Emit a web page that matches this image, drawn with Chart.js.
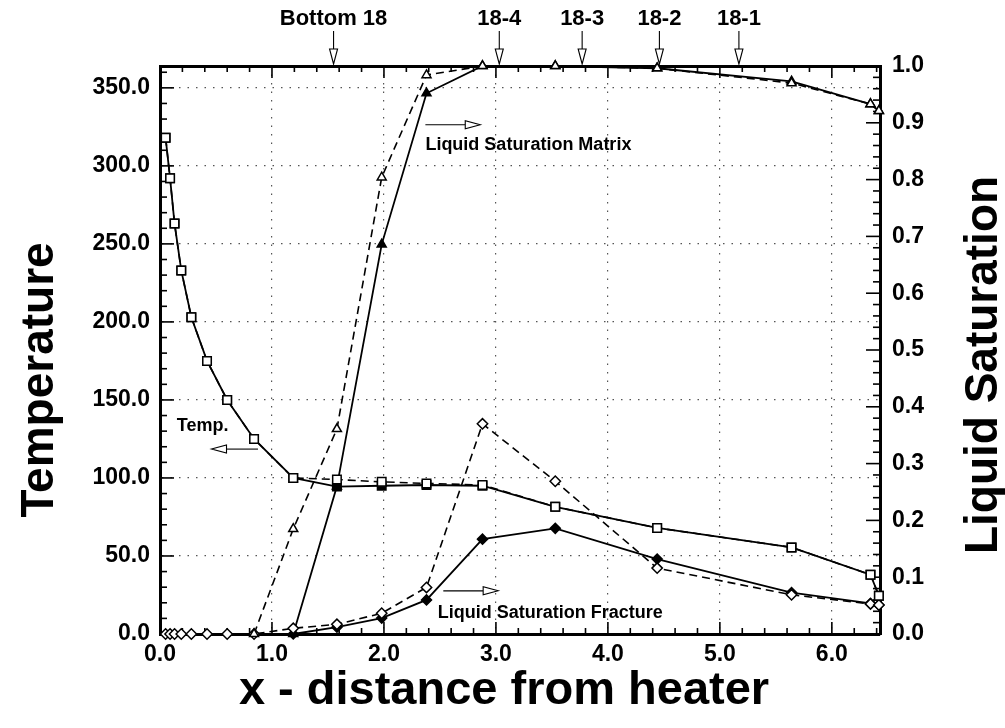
<!DOCTYPE html>
<html>
<head>
<meta charset="utf-8">
<script src="https://cdn.jsdelivr.net/npm/chart.js@4.4.1/dist/chart.umd.min.js"></script>
<style>
html,body{margin:0;padding:0;background:#fff;}
#wrap{width:1005px;height:728px;position:relative;}
</style>
</head>
<body>
<div id="wrap"><canvas id="c"></canvas></div>
<script>
// ---- data ----
const xDistance   = [0.05, 0.09, 0.13, 0.19, 0.28, 0.42, 0.60, 0.84, 1.19, 1.58, 1.98, 2.38, 2.88, 3.53, 4.44, 5.64, 6.345, 6.42];
const tempOpen    = [318, 292, 263, 233, 203, 175, 150, 125, 100, 99, 97.5, 96.5, 95.5, 81.5, 68, 55.5, 38, 24.5];
const tempFilled  = [318, 292, 263, 233, 203, 175, 150, 125, 100, 94.5, 95, 95.5, 95, 81.5, 68, 55.5, 38, 24.5];
const matrixOpen  = [null, null, null, null, null, null, null, 0, 0.185, 0.361, 0.804, 0.984, 1.0, 1.0, 0.996, 0.970, 0.933, 0.921];
const matrixFilled= [null, null, null, null, null, null, null, null, 0, 0.26, 0.686, 0.952, 1.0, 1.0, 0.996, 0.973, 0.933, 0.921];
const fracOpen    = [0, 0, 0, 0, 0, 0, 0, 0, 0.010, 0.017, 0.0365, 0.082, 0.370, 0.269, 0.116, 0.069, 0.053, 0.051];
const fracFilled  = [null, null, null, null, null, null, null, null, 0, 0.012, 0.028, 0.060, 0.167, 0.186, 0.132, 0.073, 0.054, 0.051];

const wellLabels = ['Bottom 18', '18-4', '18-3', '18-2', '18-1'];
const wellX      = [1.55, 3.03, 3.77, 4.46, 5.17];

const xMin = 0, xMax = 6.43, xStep = 1, xMinorStep = 0.2;
const tMin = 0, tMax = 364, tStep = 50, tMinorStep = 10;
const sMin = 0, sMax = 1.0, sStep = 0.1, sMinorStep = 0.02;

const FONT = '"Liberation Sans", Arial, Helvetica, sans-serif';

function pts(ys) { return xDistance.map((x, i) => ({x: x, y: ys[i]})); }

function ds(label, ys, axis, style, filled, dashed, radius, order) {
  return {
    label: label, data: pts(ys), yAxisID: axis,
    borderColor: '#000', borderWidth: dashed ? 1.6 : 1.8,
    borderDash: dashed ? [8, 5] : [],
    pointStyle: style, pointRadius: radius, pointBorderWidth: 1.5,
    pointBackgroundColor: filled ? '#000' : '#fff', pointBorderColor: '#000',
    fill: false, tension: 0, clip: false, spanGaps: false, order: order
  };
}

const datasets = [
  ds('Temp. (open)',   tempOpen,    'y',  'rect',     false, true,  6,   1),
  ds('Temp. (filled)', tempFilled,  'y',  'rect',     true,  false, 6,   2),
  ds('Matrix (open)',  matrixOpen,  'y2', 'triangle', false, true,  5.2, 1),
  ds('Matrix (filled)',matrixFilled,'y2', 'triangle', true,  false, 5.2, 2),
  ds('Fracture (open)',fracOpen,    'y2', 'rectRot',  false, true,  5.2, 1),
  ds('Fracture (filled)',fracFilled,'y2', 'rectRot',  true,  false, 5,   2)
];

const tickFont = {family: FONT, size: 23, weight: 'bold'};

const innerTicks = {
  id: 'innerTicks',
  beforeDatasetsDraw(chart) {
    const {ctx, chartArea: a, scales} = chart;
    ctx.save();
    ctx.strokeStyle = '#000';
    ctx.lineWidth = 1.6;
    const line = (x1, y1, x2, y2) => { ctx.beginPath(); ctx.moveTo(x1, y1); ctx.lineTo(x2, y2); ctx.stroke(); };
    for (let i = 0; i * xMinorStep <= xMax + 1e-9; i++) {
      const px = scales.x.getPixelForValue(i * xMinorStep);
      const len = (i % 5 === 0) ? 12 : 6;
      line(px, a.bottom, px, a.bottom - len);
      line(px, a.top, px, a.top + len);
    }
    for (let i = 0; i * tMinorStep <= tMax + 1e-9; i++) {
      const py = scales.y.getPixelForValue(i * tMinorStep);
      const len = (i % 5 === 0) ? 14 : 7;
      line(a.left, py, a.left + len, py);
    }
    for (let i = 0; i * sMinorStep <= sMax + 1e-9; i++) {
      const py = scales.y2.getPixelForValue(i * sMinorStep);
      const len = (i % 5 === 0) ? 14 : 7;
      line(a.right, py, a.right - len, py);
    }
    ctx.restore();
  }
};

function arrow(ctx, x1, y1, x2, y2, headLen, headHalf) {
  const ang = Math.atan2(y2 - y1, x2 - x1);
  const bx = x2 - Math.cos(ang) * headLen, by = y2 - Math.sin(ang) * headLen;
  ctx.beginPath(); ctx.moveTo(x1, y1); ctx.lineTo(bx, by); ctx.stroke();
  const nx = -Math.sin(ang) * headHalf, ny = Math.cos(ang) * headHalf;
  ctx.beginPath();
  ctx.moveTo(x2, y2); ctx.lineTo(bx + nx, by + ny); ctx.lineTo(bx - nx, by - ny); ctx.closePath();
  ctx.fillStyle = '#fff'; ctx.fill(); ctx.stroke();
}

const annotations = {
  id: 'annotations',
  afterDatasetsDraw(chart) {
    const {ctx, chartArea: a, scales} = chart;
    const X = v => scales.x.getPixelForValue(v);
    const T = v => scales.y.getPixelForValue(v);
    const S = v => scales.y2.getPixelForValue(v);
    ctx.save();
    ctx.strokeStyle = '#000'; ctx.lineWidth = 1.1; ctx.fillStyle = '#000';
    // well labels at the top
    ctx.font = 'bold 22px ' + FONT;
    ctx.textAlign = 'center'; ctx.textBaseline = 'middle';
    wellLabels.forEach((lab, i) => {
      const px = X(wellX[i]);
      ctx.fillStyle = '#000';
      ctx.fillText(lab, px, a.top - 47);
      arrow(ctx, px, a.top - 35, px, a.top - 2, 15, 4);
    });
    // curve labels
    ctx.fillStyle = '#000';
    ctx.font = 'bold 18px ' + FONT;
    ctx.textAlign = 'left'; ctx.textBaseline = 'middle';
    ctx.fillText('Temp.', X(0.15), T(133));
    arrow(ctx, X(0.875), T(118.5), X(0.46), T(118.5), 15, 4);
    ctx.fillStyle = '#000';
    ctx.fillText('Liquid Saturation Matrix', X(2.37), S(0.861));
    arrow(ctx, X(2.37), S(0.8965), X(2.86), S(0.8965), 15, 4);
    ctx.fillStyle = '#000';
    ctx.fillText('Liquid Saturation Fracture', X(2.48), S(0.037));
    arrow(ctx, X(2.53), S(0.076), X(3.02), S(0.076), 15, 4);
    ctx.restore();
  }
};

const axisTitles = {
  id: 'axisTitles',
  afterDraw(chart) {
    const {ctx, chartArea: a} = chart;
    ctx.save();
    ctx.fillStyle = '#000';
    ctx.textAlign = 'center'; ctx.textBaseline = 'middle';
    ctx.font = 'bold 47px ' + FONT;
    ctx.fillText('x - distance from heater', 504, a.bottom + 57);
    ctx.font = 'bold 46px ' + FONT;
    ctx.save(); ctx.translate(40, 380); ctx.rotate(-Math.PI / 2); ctx.fillText('Temperature', 0, 0); ctx.restore();
    ctx.save(); ctx.translate(984, 365); ctx.rotate(-Math.PI / 2); ctx.fillText('Liquid Saturation', 0, 0); ctx.restore();
    ctx.restore();
  }
};

new Chart(document.getElementById('c'), {
  type: 'line',
  data: {datasets: datasets},
  options: {
    responsive: true, maintainAspectRatio: false, animation: false, events: [],
    layout: {padding: 0},
    plugins: {legend: {display: false}, tooltip: {enabled: false}},
    scales: {
      x: {
        type: 'linear', position: 'bottom', min: xMin, max: xMax,
        ticks: {stepSize: xStep, includeBounds: false, font: tickFont, color: '#000', padding: 7, maxRotation: 0,
                callback: v => v.toFixed(1)},
        grid: {color: '#555', lineWidth: 1.2, drawTicks: false},
        border: {color: '#000', width: 3, dash: [1.5, 7]},
        afterFit: s => { s.height = 94; }
      },
      xTop: {
        type: 'linear', position: 'top', min: xMin, max: xMax,
        ticks: {display: false}, grid: {display: false, drawTicks: false},
        border: {color: '#000', width: 3},
        afterFit: s => { s.height = 66; }
      },
      y: {
        type: 'linear', position: 'left', min: tMin, max: tMax,
        ticks: {stepSize: tStep, includeBounds: false, font: tickFont, color: '#000', padding: 10,
                callback: v => v.toFixed(1)},
        grid: {color: '#555', lineWidth: 1.2, drawTicks: false},
        border: {color: '#000', width: 3, dash: [1.5, 7]},
        afterFit: s => { s.width = 160; }
      },
      y2: {
        type: 'linear', position: 'right', min: sMin, max: sMax,
        ticks: {stepSize: sStep, includeBounds: false, font: tickFont, color: '#000', padding: 12,
                callback: v => v.toFixed(1)},
        grid: {display: false, drawTicks: false},
        border: {color: '#000', width: 3},
        afterFit: s => { s.width = 125; }
      }
    }
  },
  plugins: [innerTicks, annotations, axisTitles]
});
</script>
</body>
</html>
